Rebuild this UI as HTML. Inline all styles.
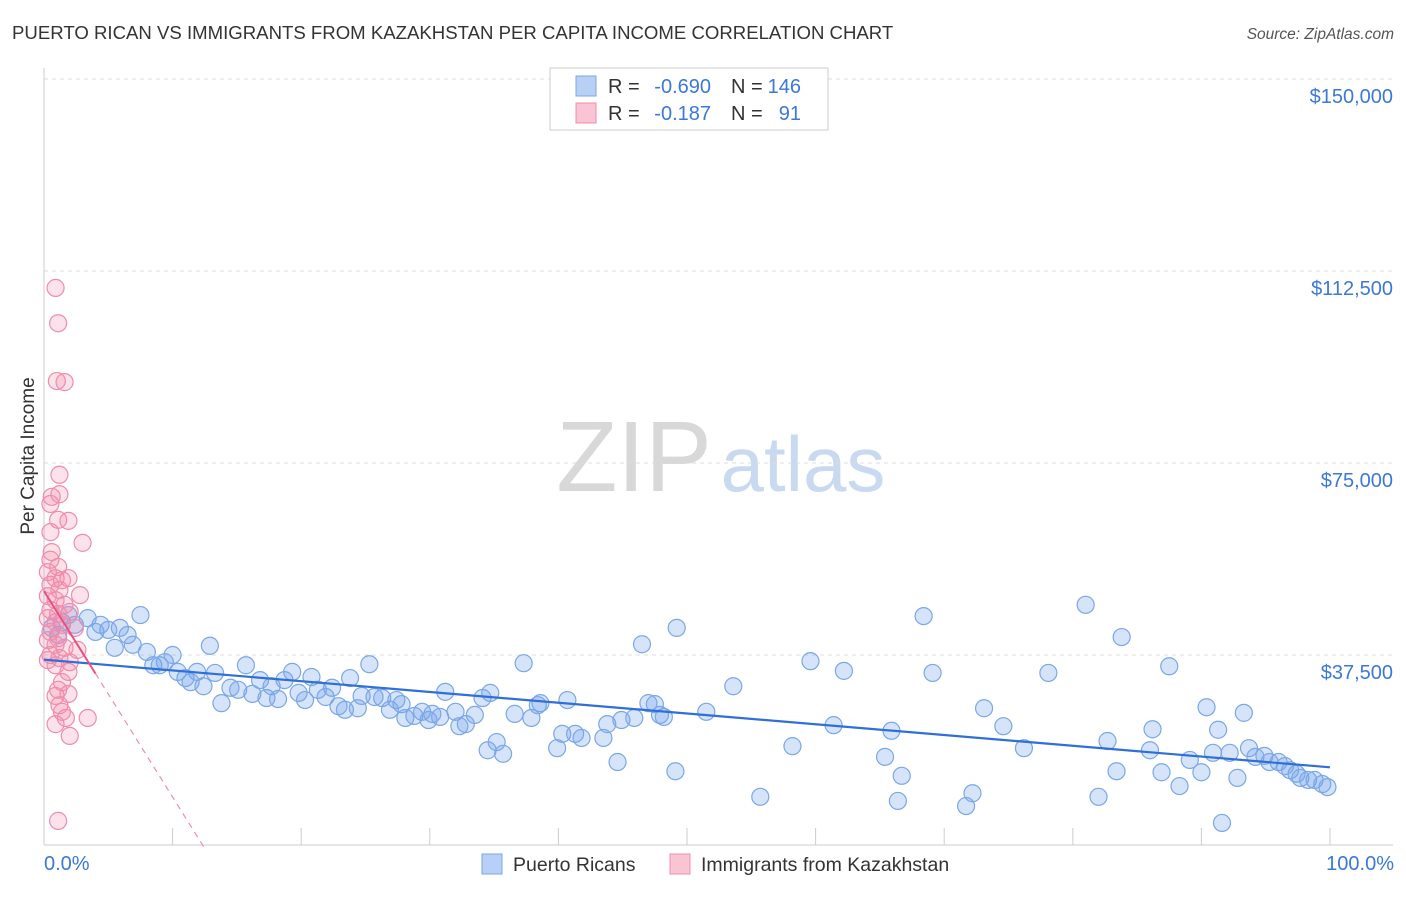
<!DOCTYPE html>
<html><head><meta charset="utf-8"><style>
body{margin:0;background:#fff;font-family:"Liberation Sans",sans-serif;}
svg text{font-family:"Liberation Sans",sans-serif;}
</style></head><body>
<svg id="c" width="1406" height="892" xmlns="http://www.w3.org/2000/svg">
<text x="12" y="39" font-size="18.6" fill="#333">PUERTO RICAN VS IMMIGRANTS FROM KAZAKHSTAN PER CAPITA INCOME CORRELATION CHART</text>
<text x="1394" y="39" font-size="15.5" fill="#555" font-style="italic" text-anchor="end">Source: ZipAtlas.com</text>
<text x="634" y="491" font-size="100" fill="#d8d8d8" font-family="Liberation Serif" text-anchor="middle">ZIP</text>
<text x="803" y="491" font-size="78" fill="#c9d9f0" text-anchor="middle">atlas</text>
<text transform="translate(34,456) rotate(-90)" font-size="19" fill="#333" text-anchor="middle">Per Capita Income</text>
<g id="grid"></g><g id="pts"></g><g id="lines"></g>
<g>
<rect x="550" y="68" width="278" height="62" fill="#fff" stroke="#ccc"/>
<rect x="576" y="76" width="20" height="20" fill="#b8d0f5" stroke="#7aa7e8"/>
<text x="608" y="93" font-size="20" fill="#333">R =</text>
<text x="711" y="93" font-size="20" fill="#3b78d8" text-anchor="end">-0.690</text>
<text x="731" y="93" font-size="20" fill="#333">N =</text>
<text x="801" y="93" font-size="20" fill="#3b78d8" text-anchor="end">146</text>
<rect x="576" y="103" width="20" height="20" fill="#f9c4d4" stroke="#f08cab"/>
<text x="608" y="120" font-size="20" fill="#333">R =</text>
<text x="711" y="120" font-size="20" fill="#3b78d8" text-anchor="end">-0.187</text>
<text x="731" y="120" font-size="20" fill="#333">N =</text>
<text x="801" y="120" font-size="20" fill="#3b78d8" text-anchor="end">91</text>
</g>
<g>
<rect x="482" y="854" width="20" height="20" fill="#b8d0f5" stroke="#7aa7e8"/>
<text x="513" y="871" font-size="19.5" fill="#333">Puerto Ricans</text>
<rect x="670" y="854" width="20" height="20" fill="#f9c4d4" stroke="#f08cab"/>
<text x="701" y="871" font-size="19.5" fill="#333">Immigrants from Kazakhstan</text>
</g>
<text x="44" y="870" font-size="20" fill="#3b78d8">0.0%</text>
<text x="1394" y="870" font-size="20" fill="#3b78d8" text-anchor="end">100.0%</text>
</svg>
<script>
const yTicks=[37500,75000,112500,150000];
const yTickLabels=["$37,500","$75,000","$112,500","$150,000"];
const blueX=[0.6,1.1,1.4,1.9,2.4,3.4,4.0,4.4,5.0,5.5,5.9,6.5,6.9,7.5,8.0,8.5,9.0,9.4,10.0,10.4,11.0,11.4,11.9,12.4,12.9,13.3,13.8,14.5,15.1,15.7,16.2,16.8,17.3,17.7,18.2,18.7,19.3,19.8,20.3,20.8,21.3,21.9,22.4,22.9,23.4,23.8,24.4,24.7,25.3,25.7,26.3,26.9,27.4,27.8,28.1,28.8,29.4,29.9,30.2,30.8,31.2,32.0,32.3,32.8,33.5,34.1,34.7,34.5,35.2,35.7,36.6,37.3,37.9,38.4,38.6,39.9,40.3,40.7,41.3,41.8,43.5,43.8,44.6,44.9,45.9,46.5,47.0,47.5,47.9,48.2,49.1,49.2,51.5,53.6,55.7,58.2,59.6,61.4,62.2,65.4,65.9,66.4,66.7,68.4,69.1,71.7,72.2,73.1,74.6,76.2,78.1,81.0,82.0,82.7,83.4,83.8,86.0,86.2,86.9,87.5,88.3,89.1,90.0,90.4,90.9,91.6,91.3,92.2,92.8,93.3,93.7,94.2,94.9,95.3,96.0,96.5,96.9,97.4,97.7,98.3,98.8,99.4,99.8];
const blueY=[42.8,41.4,43.9,45.3,43.4,44.7,42.0,43.4,42.4,38.9,42.8,41.4,39.5,45.3,38.1,35.5,35.5,36.1,37.5,34.2,33.0,32.2,34.2,31.4,39.3,34.0,28.1,31.1,30.7,35.5,29.9,32.6,29.1,31.4,28.9,32.6,34.2,30.1,28.7,33.2,30.7,29.3,31.1,27.5,26.8,33.0,27.1,29.5,35.7,29.3,29.1,26.8,28.7,27.9,25.2,25.6,26.4,24.8,26.0,25.4,30.3,26.4,23.6,24.0,25.8,29.1,30.1,18.9,20.5,18.2,26.0,35.9,25.2,27.7,28.1,19.3,22.1,28.7,22.1,21.3,21.3,24.0,16.6,24.8,25.2,39.6,28.1,27.9,25.8,25.4,14.8,42.8,26.4,31.4,9.8,19.7,36.3,23.8,34.4,17.6,22.7,9.0,13.9,45.1,34.0,8.0,10.5,27.1,23.6,19.3,34.0,47.3,9.8,20.7,14.8,41.0,18.9,23.0,14.6,35.3,11.9,17.0,14.6,27.3,18.4,4.7,22.9,18.4,13.5,26.2,19.3,17.6,17.8,16.6,16.6,15.8,15.0,14.3,13.5,13.1,13.1,12.3,11.7];
const pinkX=[0.9,1.1,1.0,1.6,1.2,0.6,1.2,0.5,1.9,1.1,0.5,3.0,0.6,0.5,1.1,0.3,0.9,1.4,1.9,0.5,1.2,2.8,0.3,0.9,1.6,0.5,1.1,2.0,0.3,0.9,1.4,2.4,0.5,1.1,0.3,0.9,1.6,2.6,0.5,1.2,2.0,0.3,0.9,1.9,1.4,1.1,1.9,0.9,1.2,1.4,1.7,3.4,0.9,2.0,1.1];
const pinkY=[109.2,102.3,91.0,90.8,72.7,68.4,68.9,67.0,63.7,63.9,61.5,59.4,57.6,56.1,54.7,53.7,52.5,52.1,52.5,51.2,50.2,49.2,49.0,48.2,47.3,46.3,45.5,45.9,44.7,43.9,43.4,42.8,42.0,40.8,40.4,39.5,38.9,38.5,37.5,36.9,36.1,36.5,35.5,34.2,32.2,30.7,29.9,29.5,27.7,26.4,25.2,25.2,24.0,21.7,5.1];
const X0=44,X1=1330,Y0=847,YS=192/37500;
const sx=v=>X0+(X1-X0)*v/100, sy=v=>Y0-v*YS;
const NS="http://www.w3.org/2000/svg";
function mk(tag,at,parent){const e=document.createElementNS(NS,tag);for(const k in at)e.setAttribute(k,at[k]);parent.appendChild(e);return e;}
const grid=document.getElementById('grid');
mk('line',{x1:44,y1:79,x2:1393,y2:79,stroke:'#ddd','stroke-dasharray':'4,4'},grid);
yTicks.forEach((t,i)=>{
 const l=mk('line',{x1:44,y1:sy(t),x2:1393,y2:sy(t),stroke:'#ddd','stroke-dasharray':'4,4'},grid);
 
 
 const tx=mk('text',{x:1393,y:sy(t)+24,'font-size':20,fill:'#3b78d8','text-anchor':'end'},grid);
 tx.textContent=yTickLabels[i];
 
 
});
mk('line',{x1:44,y1:68,x2:44,y2:845,stroke:'#ccc'},grid);
mk('line',{x1:44,y1:845,x2:1393,y2:845,stroke:'#ccc'},grid);
for(let i=0;i<=10;i++){const t=mk('line',{x1:sx(i*10),y1:828,x2:sx(i*10),y2:845,stroke:'#ccc'},grid);
 
 }
const pts=document.getElementById('pts');
blueX.forEach((x,i)=>{const c=mk('circle',{cx:sx(x),cy:sy(blueY[i]*1000),r:8.5,fill:'rgba(120,165,235,0.3)',stroke:'#7aa7e8','stroke-width':1.2},pts);
 
 });
pinkX.forEach((x,i)=>{const c=mk('circle',{cx:sx(x),cy:sy(pinkY[i]*1000),r:8.5,fill:'rgba(245,140,170,0.25)',stroke:'#f08cab','stroke-width':1.2},pts);
 
 });
function fit(xs,ys){const n=xs.length;let mx=0,my=0;for(let i=0;i<n;i++){mx+=xs[i];my+=ys[i];}mx/=n;my/=n;let a=0,b=0;for(let i=0;i<n;i++){a+=(xs[i]-mx)*(ys[i]-my);b+=(xs[i]-mx)**2;}const s=a/b;return [s,my-s*mx,mx,my];}
const lines=document.getElementById('lines');
const [bs,bi]=fit(blueX,blueY);
const bl=mk('line',{x1:sx(0),y1:sy(bi*1000),x2:sx(100),y2:sy((bi+bs*100)*1000),stroke:'#2f6fd6','stroke-width':2.2},lines);


let [ps,pi,pmx,pmy]=fit(pinkX,pinkY);
ps=ps*0.9; pi=pmy-ps*pmx-3;
const xe=4.0, xz=-pi/ps;
const pl=mk('line',{x1:sx(0),y1:sy(pi*1000),x2:sx(xe),y2:sy((pi+ps*xe)*1000),stroke:'#e8507e','stroke-width':2},lines);


const pd=mk('line',{x1:sx(xe),y1:sy((pi+ps*xe)*1000),x2:sx(xz),y2:sy(0),stroke:'#f08cab','stroke-width':1.2,'stroke-dasharray':'6,5'},lines);


</script>
</body></html>
